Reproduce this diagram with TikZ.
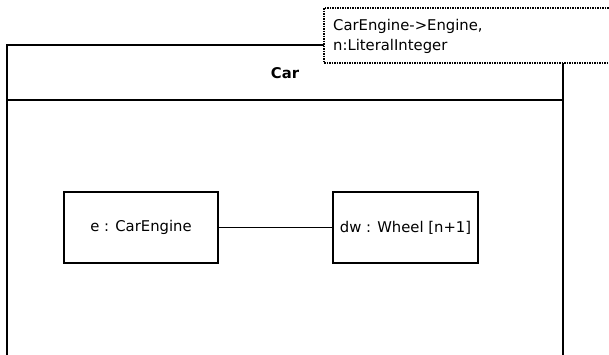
\documentclass[tikz,border=0pt]{standalone}
\usepackage{fontspec}
\setmainfont{DejaVu Sans}
\begin{document}
\begin{tikzpicture}[x=1pt,y=-1pt,
  part/.style={draw=black,line width=1.3pt,fill=white,minimum width=154pt,minimum height=71pt,inner sep=0pt,font=\fontsize{14.8}{18}\selectfont},
  frame/.style={draw=black,line width=1.5pt},
  notebox/.style={draw=black,dash pattern=on 1.5pt off 1pt,line width=1.2pt,fill=white},
  notetext/.style={anchor=west,inner sep=0pt,font=\fontsize{14.8}{18}\selectfont},
  conn/.style={draw=black,line width=1.3pt}]
\useasboundingbox (0,0) rectangle (609,354);
\clip (0,0) rectangle (609,354);
% Car frame
\draw[frame] (7,360) -- (7,45) -- (563,45) -- (563,360);
\draw[frame] (7,100) -- (563,100);
\node[font=\bfseries\fontsize{14.8}{18}\selectfont] (car) at (285,73) {Car};
% note
\path[notebox] (324,8) rectangle (620,63);
\node[notetext] (n1) at (333,26) {CarEngine->Engine,};
\node[notetext] (n2) at (333,46) {n:LiteralInteger};
% parts
\node[part] (e) at (141,227.5) {e : CarEngine};
\node[part,minimum width=145pt] (dw) at (405.5,227.5) {dw : Wheel [n+1]};
\draw[conn] (e) -- (dw);
\end{tikzpicture}
\end{document}
